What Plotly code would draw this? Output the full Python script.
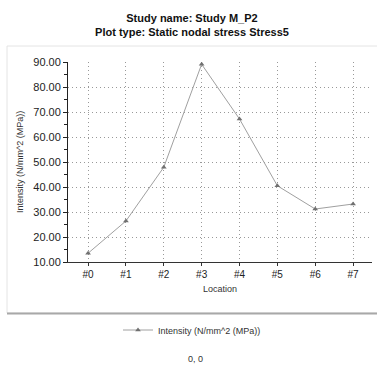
import plotly.graph_objects as go

locations = ["#0", "#1", "#2", "#3", "#4", "#5", "#6", "#7"]
intensity = [13.5, 26.4, 47.9, 89.1, 67.2, 40.5, 31.2, 33.2]
y_ticks = [10, 20, 30, 40, 50, 60, 70, 80, 90]
series_name = "Intensity (N/mm^2 (MPa))"
title_lines = ["Study name: Study M_P2", "Plot type: Static nodal stress Stress5"]
footer_text = "0, 0"

FONT = "Liberation Sans"

fig = go.Figure()
fig.add_trace(go.Scatter(
    x=list(range(len(locations))), y=intensity, mode="lines+markers",
    name=series_name,
    line=dict(color="#a0a0a0", width=1),
    marker=dict(symbol="triangle-up", size=5, color="#707070"),
))

# plot area: px 68..372 horizontally, 62..262 vertically
L, R, T, B = 68, 372, 62, 262
W, H = 377, 367
pw, ph = R - L, B - T

def px(x):
    return (x - L) / pw

def py(y):
    return (B - y) / ph

fig.update_layout(
    width=W, height=H,
    margin=dict(l=L, r=W - R, t=T, b=H - B),
    paper_bgcolor="white", plot_bgcolor="white",
    font=dict(family=FONT, size=11, color="#222"),
    showlegend=True,
    legend=dict(orientation="h", x=px(118), y=py(330), xanchor="left", yanchor="middle",
                font=dict(size=9, color="#333"), bgcolor="rgba(0,0,0,0)",
                itemwidth=30),
    title=dict(text="<b>" + title_lines[0] + "<br>" + title_lines[1] + "</b>",
               x=(192) / W, xanchor="center", y=1 - 22 / H, yanchor="middle",
               font=dict(family=FONT, size=11, color="#111")),
)

fig.update_xaxes(
    range=[-0.53, 7.5], tickvals=list(range(len(locations))), ticktext=locations,
    showline=True, linecolor="#333", linewidth=1,
    ticks="outside", ticklen=3, tickcolor="#333",
    showgrid=True, gridcolor="#999999", griddash="1px,3px", gridwidth=1,
    zeroline=False,
    title=dict(text="Location", font=dict(size=9, color="#333"), standoff=6),
    tickfont=dict(size=10, color="#222"),
)
fig.update_yaxes(
    range=[10, 90], tickvals=y_ticks, ticktext=[f"{v:.2f}" for v in y_ticks],
    showline=True, linecolor="#222", linewidth=1,
    ticks="outside", ticklen=4, tickcolor="#222",
    minor=dict(dtick=5, ticks="outside", ticklen=3, tickcolor="#222", showgrid=False),
    showgrid=True, gridcolor="#999999", griddash="1px,3px", gridwidth=1,
    zeroline=False,
    title=dict(text=series_name, font=dict(size=9, color="#333"), standoff=8),
    tickfont=dict(size=11, color="#222"),
)

# panel frame
fig.add_shape(type="rect", xref="paper", yref="paper",
              x0=px(7), x1=px(380), y0=py(313), y1=py(46),
              line=dict(color="#e4e4e4", width=1), layer="below")
fig.add_shape(type="line", xref="paper", yref="paper",
              x0=px(7), x1=px(380), y0=py(313.5), y1=py(313.5),
              line=dict(color="#a8a8a8", width=2))

fig.add_annotation(text=footer_text, xref="paper", yref="paper",
                   x=px(195), y=py(359), showarrow=False,
                   font=dict(size=9, color="#333"), xanchor="center", yanchor="middle")

fig.write_html("out.html")
